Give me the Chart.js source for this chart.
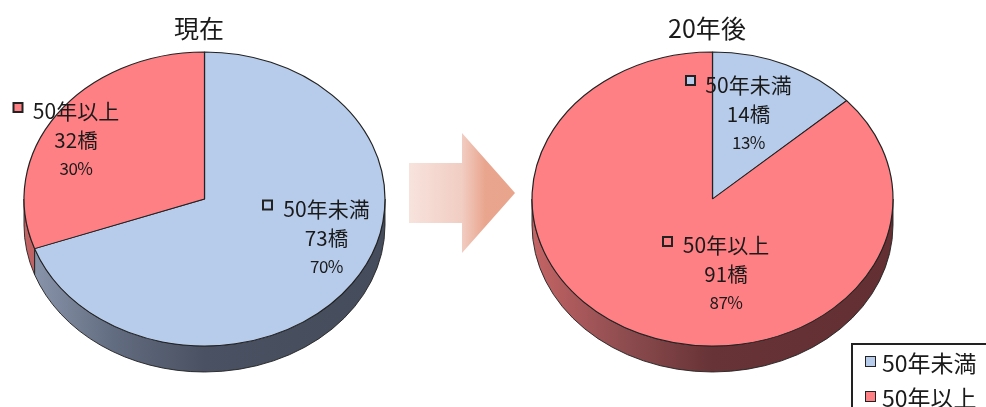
<!DOCTYPE html>
<html>
<head>
<meta charset="utf-8">
<script src="https://cdn.jsdelivr.net/npm/chart.js@4"></script>
<style>
  html, body { margin: 0; padding: 0; background: #fff; overflow: hidden; }
  body { width: 986px; height: 407px; position: relative; font-family: "Noto Sans CJK JP", sans-serif; color: #1a1a1a; }
  .pie { position: absolute; top: 0; width: 401px; height: 407px; }
  #arrow {
    position: absolute; left: 409px; top: 133px; width: 106px; height: 120px;
    background: linear-gradient(to right, #f7e3dd 0%, #f1cdc2 50%, #e9a58e 72%, #e9a48c 100%);
    clip-path: polygon(0 25%, 50% 25%, 50% 0, 100% 50%, 50% 100%, 50% 75%, 0 75%);
  }
  #legend {
    position: absolute; left: 851px; top: 343px; width: 140px; height: 70px;
    border: 2px solid #222; box-sizing: border-box; font-size: 23px; line-height: 35px;
  }
  #legend div { position: absolute; left: 29px; white-space: nowrap; }
  #legend i { position: absolute; left: -17px; top: 11px; width: 9px; height: 9px; border: 1.5px solid #222; }
</style>
</head>
<body>
<div class="pie" style="left:4px"><canvas id="pie-now"></canvas></div>
<div id="arrow"></div>
<div class="pie" style="left:512px"><canvas id="pie-later"></canvas></div>
<div id="legend"></div>
<script>
const categories = ["50年未満", "50年以上"];
const bridgesNow = [73, 32];
const bridgesLater = [14, 91];
const percentNow = ["70%", "30%"];
const percentLater = ["13%", "87%"];
const titleNow = "現在";
const titleLater = "20年後";

const sliceColors = ["#b7cceb", "#ff8084"];
// side wall shading, left to right
const wallColors = [
  ["#8d99b0", "#626c80", "#4a5162", "#474e5e", "#454c5c"],
  ["#c46465", "#8f4d50", "#673336", "#653134", "#632f32"],
];
const squash = 0.8144;
const wallDepth = 26;

// depth and squash of the pie, drawn from the arcs chart.js laid out
const tiltPlugin = {
  id: "tilt",
  beforeDatasetsDraw(chart) {
    const ctx = chart.ctx;
    const arcs = chart.getDatasetMeta(0).data;
    const cy = arcs[0].y;
    ctx.save();
    ctx.translate(0, cy);
    ctx.scale(1, squash);
    ctx.translate(0, -cy);
    arcs.forEach((arc, i) => {
      const r = arc.outerRadius;
      const from = Math.max(arc.startAngle, 0);
      const to = Math.min(arc.endAngle, Math.PI);
      if (to <= from) return;
      const grad = ctx.createLinearGradient(arc.x - r, 0, arc.x + r, 0);
      wallColors[i].forEach((c, k) => grad.addColorStop(k / (wallColors[i].length - 1), c));
      ctx.beginPath();
      ctx.arc(arc.x, cy + wallDepth / squash, r, from, to);
      ctx.arc(arc.x, cy, r, to, from, true);
      ctx.closePath();
      ctx.fillStyle = grad;
      ctx.fill();
      ctx.strokeStyle = "#222";
      ctx.lineWidth = 1;
      ctx.stroke();
    });
  },
  afterDatasetsDraw(chart) {
    chart.ctx.restore();
  },
};

// title and hand placed labels, offsets from the pie centre
const labelPlugin = {
  id: "sliceLabels",
  afterDraw(chart, args, opts) {
    const ctx = chart.ctx;
    const arc = chart.getDatasetMeta(0).data[0];
    ctx.save();
    ctx.textAlign = "center";
    ctx.textBaseline = "middle";
    ctx.fillStyle = "#1a1a1a";
    ctx.font = '25px "Noto Sans CJK JP"';
    ctx.fillText(opts.title, arc.x - 5.5, 28);
    opts.offsets.forEach((off, i) => {
      const x = arc.x + off[0];
      const y = arc.y + off[1];
      ctx.fillStyle = "#1a1a1a";
      ctx.font = '21px "Noto Sans CJK JP"';
      ctx.fillText(categories[i], x, y);
      ctx.font = '20.5px "Noto Sans CJK JP"';
      ctx.fillText(chart.data.datasets[0].data[i] + "橋", x, y + 29);
      ctx.font = '17px "Noto Sans CJK JP"';
      ctx.letterSpacing = "-0.5px";
      ctx.fillText(opts.percents[i], x, y + 58);
      ctx.letterSpacing = "0px";
      // small key square
      ctx.fillStyle = sliceColors[i];
      ctx.strokeStyle = "#222";
      ctx.lineWidth = 2;
      ctx.fillRect(x + off[2], y + off[3], 9, 9);
      ctx.strokeRect(x + off[2], y + off[3], 9, 9);
    });
    ctx.restore();
  },
};

function makePie(id, values, title, percents, offsets) {
  return new Chart(document.getElementById(id), {
    type: "pie",
    data: {
      labels: categories,
      datasets: [{
        data: values,
        backgroundColor: sliceColors,
        borderColor: "#222",
        borderWidth: 1.2,
        clip: false,
      }],
    },
    options: {
      responsive: true,
      maintainAspectRatio: false,
      animation: false,
      radius: 180.5,
      layout: { padding: { bottom: 9 } },
      plugins: {
        legend: { display: false },
        tooltip: { enabled: false },
        sliceLabels: { title: title, percents: percents, offsets: offsets },
      },
    },
    plugins: [tiltPlugin, labelPlugin],
  });
}

makePie("pie-now", bridgesNow, titleNow, percentNow, [
  [122, 10, -63.5, -8.5],
  [-128.5, -88, -62.5, -8],
]);
makePie("pie-later", bridgesLater, titleLater, percentLater, [
  [36, -114, -62.5, -9],
  [13.5, 46, -63, -8],
]);

const legend = document.getElementById("legend");
categories.forEach((name, i) => {
  const row = document.createElement("div");
  row.style.top = -0.5 + i * 35 + "px";
  row.innerHTML = '<i style="background:' + sliceColors[i] + '"></i>' + name;
  legend.appendChild(row);
});
</script>
</body>
</html>
